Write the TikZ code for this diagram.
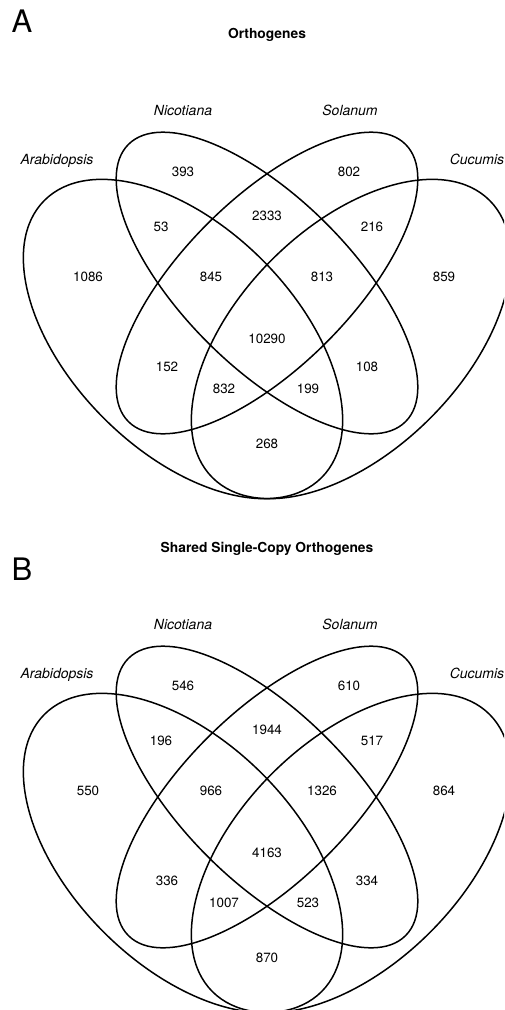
\documentclass[tikz,border=0pt]{standalone}
\usepackage{fontspec}
\setmainfont{TeX Gyre Heros}
\begin{document}
\begin{tikzpicture}[x=1pt,y=1pt,
  venn/.style={line width=1.5pt},
  num/.style={font=\fontsize{13.4}{16}\selectfont, inner sep=0pt},
  sp/.style={font=\fontsize{14}{16}\selectfont\itshape, inner sep=0pt, anchor=base},
  ttl/.style={font=\fontsize{13.8}{16}\selectfont\bfseries, inner sep=0pt, anchor=base},
  panellbl/.style={font=\fontsize{31}{36}\selectfont, inner sep=0pt, anchor=base}]
\useasboundingbox (0,0) rectangle (504,-1010);
\fill[white] (0,0) rectangle (504,-1010);
\clip (0,0) rectangle (504,-1010);

% ---------- Panel A ----------
\node[panellbl] (lA) at (22,-32) {A};
\node[ttl] (tA) at (267,-38) {Orthogenes};
\begin{scope}
  \draw[venn, rotate around={-45:(183,-339)}] (183,-339) ellipse [x radius=196, y radius=112];
  \draw[venn, rotate around={-45:(267,-283)}] (267,-283) ellipse [x radius=196, y radius=84];
  \draw[venn, rotate around={45:(267,-283)}] (267,-283) ellipse [x radius=196, y radius=84];
  \draw[venn, rotate around={45:(351,-339)}] (351,-339) ellipse [x radius=196, y radius=112];
  \node[sp] (aNic) at (183,-115) {Nicotiana};
  \node[sp] (aSol) at (350,-115) {Solanum};
  \node[sp] (aAra) at (57,-164) {Arabidopsis};
  \node[sp] (aCuc) at (477,-164) {Cucumis};
  \node[num] (a1) at (183,-172) {393};
  \node[num] (a2) at (349,-172) {802};
  \node[num] (a3) at (267,-216) {2333};
  \node[num] (a4) at (161,-227) {53};
  \node[num] (a5) at (372,-227) {216};
  \node[num] (a6) at (88,-277) {1086};
  \node[num] (a7) at (211,-277) {845};
  \node[num] (a8) at (322,-277) {813};
  \node[num] (a9) at (444,-277) {859};
  \node[num] (a10) at (267,-339) {10290};
  \node[num] (a11) at (167,-367) {152};
  \node[num] (a12) at (367,-367) {108};
  \node[num] (a13) at (224,-389) {832};
  \node[num] (a14) at (308,-389) {199};
  \node[num] (a15) at (267,-444) {268};
\end{scope}

% ---------- Panel B ----------
\node[panellbl] (lB) at (22,-580) {B};
\node[ttl] (tB) at (267,-552) {Shared Single-Copy Orthogenes};
\begin{scope}[yshift=-514pt]
  \draw[venn, rotate around={-45:(183,-339)}] (183,-339) ellipse [x radius=196, y radius=112];
  \draw[venn, rotate around={-45:(267,-283)}] (267,-283) ellipse [x radius=196, y radius=84];
  \draw[venn, rotate around={45:(267,-283)}] (267,-283) ellipse [x radius=196, y radius=84];
  \draw[venn, rotate around={45:(351,-339)}] (351,-339) ellipse [x radius=196, y radius=112];
  \node[sp] (bNic) at (183,-115) {Nicotiana};
  \node[sp] (bSol) at (350,-115) {Solanum};
  \node[sp] (bAra) at (57,-164) {Arabidopsis};
  \node[sp] (bCuc) at (477,-164) {Cucumis};
  \node[num] (b1) at (183,-172) {546};
  \node[num] (b2) at (349,-172) {610};
  \node[num] (b3) at (267,-216) {1944};
  \node[num] (b4) at (161,-227) {196};
  \node[num] (b5) at (372,-227) {517};
  \node[num] (b6) at (88,-277) {550};
  \node[num] (b7) at (211,-277) {966};
  \node[num] (b8) at (322,-277) {1326};
  \node[num] (b9) at (444,-277) {864};
  \node[num] (b10) at (267,-339) {4163};
  \node[num] (b11) at (167,-367) {336};
  \node[num] (b12) at (367,-367) {334};
  \node[num] (b13) at (224,-389) {1007};
  \node[num] (b14) at (308,-389) {523};
  \node[num] (b15) at (267,-444) {870};
\end{scope}
\end{tikzpicture}
\end{document}
